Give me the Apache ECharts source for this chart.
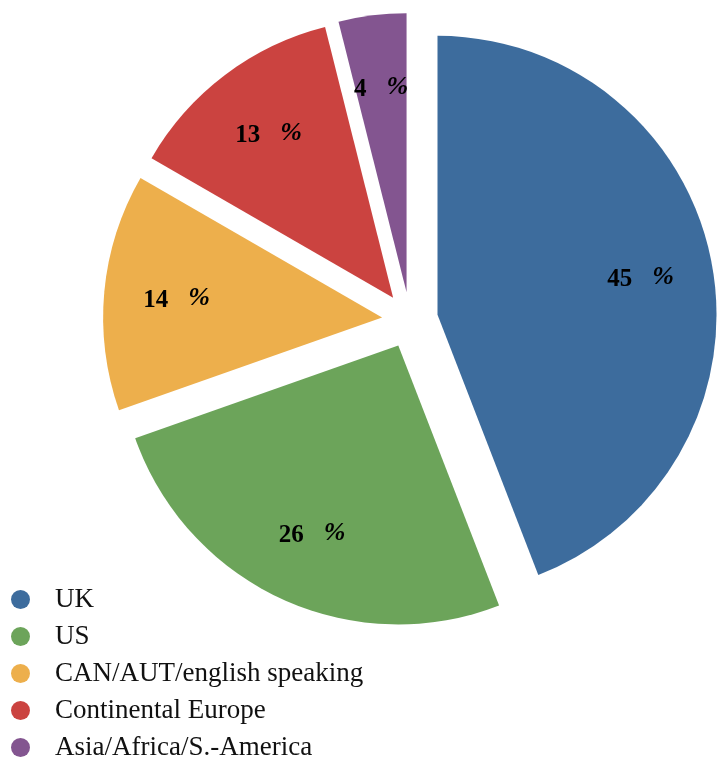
<!DOCTYPE html>
<html><head><meta charset="utf-8">
<script src="https://cdn.jsdelivr.net/npm/echarts@6/dist/echarts.min.js"></script>
<style>html,body{margin:0;padding:0;background:#fff}#c{width:717px;height:762px}</style>
</head><body><div id="c"></div>
<script>
const categories = ['UK', 'US', 'CAN/AUT/english speaking', 'Continental Europe', 'Asia/Africa/S.-America'];
const values = [45, 26, 14, 13, 4];
const colors = ['#3d6c9d', '#6ca45a', '#edaf4c', '#cb4340', '#835590'];

const chart = echarts.init(document.getElementById('c'));
const center = [410, 320];
const R = 279;
const data = categories.map((n, i) => ({ name: n, value: values[i], selected: true, itemStyle: { color: colors[i] } }));
const labelData = categories.map((n, i) => ({ name: n, value: values[i], selected: true, itemStyle: { color: 'rgba(0,0,0,0)' } }));
chart.setOption({
  animation: false,
  legend: {
    orient: 'vertical', left: 11, top: 586, padding: 0,
    data: categories,
    icon: 'circle', itemWidth: 19, itemHeight: 19, itemGap: 10,
    textStyle: { fontFamily: 'Liberation Serif', fontSize: 27, color: '#111', padding: [0, 0, 0, 20] },
    selectedMode: false
  },
  series: [
    {
      type: 'pie', center: center, radius: [0, R], startAngle: 90, clockwise: true,
      selectedMode: 'multiple', selectedOffset: 28,
      label: { show: false }, labelLine: { show: false },
      emphasis: { disabled: true },
      data: data
    },
    {
      type: 'pie', center: center, radius: [128, R], startAngle: 90, clockwise: true,
      selectedMode: 'multiple', selectedOffset: 28, silent: true,
      emphasis: { disabled: true },
      label: {
        show: true, position: 'inside',
        formatter: p => '{v|' + p.value + '}{p|%}',
        rich: {
          v: { fontFamily: 'Liberation Serif', fontWeight: 'bold', fontSize: 25, color: '#000', padding: [5, 0, 0, 0] },
          p: { fontFamily: 'Liberation Serif', fontWeight: 'bold', fontStyle: 'italic', fontSize: 26, color: '#000', padding: [0, 0, 0, 20] }
        }
      },
      labelLine: { show: false },
      data: labelData
    }
  ]
});
</script></body></html>
